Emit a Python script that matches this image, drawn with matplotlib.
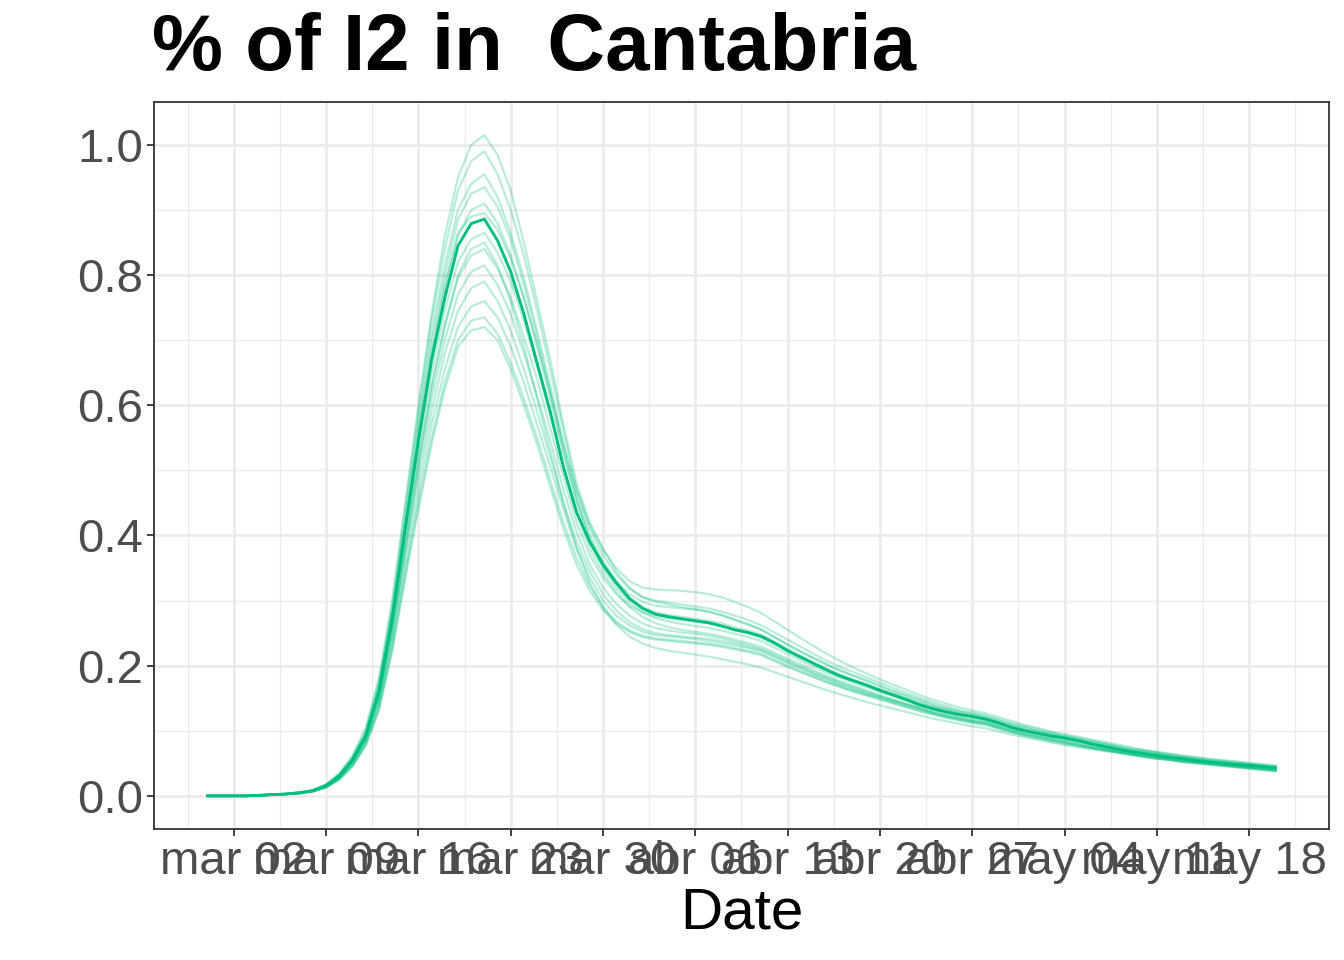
import matplotlib
matplotlib.use("Agg")
import matplotlib.pyplot as plt
import matplotlib.dates as mdates
import numpy as np
import pandas as pd

plt.rcParams['font.family'] = ['Liberation Sans', 'DejaVu Sans']

TITLE = "% of I2 in  Cantabria"
XLABEL = "Date"
START_DATE = "2020-02-29"
N_DAYS = 82

tick_dates = ["2020-03-02", "2020-03-09", "2020-03-16", "2020-03-23", "2020-03-30",
              "2020-04-06", "2020-04-13", "2020-04-20", "2020-04-27", "2020-05-04",
              "2020-05-11", "2020-05-18"]
tick_labels = ["mar 02", "mar 09", "mar 16", "mar 23", "mar 30", "abr 06", "abr 13",
               "abr 20", "abr 27", "may 04", "may 11", "may 18"]
y_ticks = [0.0, 0.2, 0.4, 0.6, 0.8, 1.0]
y_tick_labels = ["0.0", "0.2", "0.4", "0.6", "0.8", "1.0"]

# main (median) trajectory
main_series = [0, 0, 0, 0, 0.001, 0.002, 0.003, 0.005, 0.008, 0.016,
               0.031, 0.055, 0.092, 0.16, 0.27, 0.41, 0.545, 0.67, 0.765, 0.845,
               0.879, 0.886, 0.853, 0.805, 0.74, 0.665, 0.59, 0.505, 0.435, 0.39,
               0.355, 0.327, 0.303, 0.288, 0.279, 0.275, 0.272, 0.269, 0.266, 0.261,
               0.255, 0.251, 0.245, 0.235, 0.223, 0.213, 0.203, 0.193, 0.184, 0.177,
               0.170, 0.162, 0.155, 0.148, 0.140, 0.134, 0.129, 0.125, 0.122, 0.118,
               0.112, 0.105, 0.100, 0.096, 0.092, 0.089, 0.085, 0.080, 0.076, 0.072,
               0.068, 0.065, 0.062, 0.059, 0.057, 0.054, 0.052, 0.050, 0.048, 0.047,
               0.045, 0.043]

# ensemble trajectories
ens_a = [0, 0, 0, 0, 0.001, 0.002, 0.003, 0.005, 0.009, 0.018,
         0.035, 0.062, 0.105, 0.18, 0.30, 0.45, 0.60, 0.74, 0.86, 0.95,
         1.0, 1.015, 0.985, 0.93, 0.85, 0.76, 0.67, 0.57, 0.48, 0.42,
         0.38, 0.345, 0.32, 0.305, 0.298, 0.294, 0.29, 0.287, 0.283, 0.277,
         0.27, 0.263, 0.255, 0.244, 0.233, 0.222, 0.212, 0.202, 0.193, 0.185,
         0.178, 0.170, 0.162, 0.155, 0.148, 0.141, 0.135, 0.130, 0.126, 0.122,
         0.116, 0.110, 0.105, 0.100, 0.096, 0.092, 0.088, 0.084, 0.080, 0.076,
         0.072, 0.069, 0.066, 0.063, 0.060, 0.058, 0.055, 0.053, 0.051, 0.049,
         0.047, 0.045]
ens_b = [0, 0, 0, 0, 0.001, 0.002, 0.003, 0.005, 0.009, 0.017,
         0.033, 0.060, 0.10, 0.175, 0.29, 0.44, 0.59, 0.73, 0.84, 0.93,
         0.975, 0.99, 0.955, 0.90, 0.83, 0.745, 0.655, 0.56, 0.47, 0.41,
         0.37, 0.34, 0.318, 0.305, 0.30, 0.297, 0.294, 0.291, 0.288, 0.283,
         0.277, 0.27, 0.262, 0.251, 0.240, 0.229, 0.218, 0.207, 0.198, 0.19,
         0.182, 0.174, 0.166, 0.158, 0.151, 0.144, 0.138, 0.132, 0.128, 0.124,
         0.118, 0.112, 0.107, 0.102, 0.097, 0.093, 0.089, 0.085, 0.081, 0.077,
         0.073, 0.07, 0.067, 0.064, 0.061, 0.058, 0.056, 0.054, 0.052, 0.05,
         0.048, 0.046]
ens_c = [0, 0, 0, 0, 0.001, 0.002, 0.003, 0.005, 0.008, 0.016,
         0.032, 0.058, 0.097, 0.17, 0.285, 0.43, 0.575, 0.71, 0.815, 0.9,
         0.94, 0.955, 0.92, 0.865, 0.795, 0.715, 0.63, 0.54, 0.46, 0.40,
         0.36, 0.33, 0.305, 0.29, 0.282, 0.278, 0.275, 0.272, 0.269, 0.265,
         0.259, 0.254, 0.248, 0.237, 0.226, 0.215, 0.205, 0.195, 0.186, 0.178,
         0.171, 0.164, 0.157, 0.150, 0.143, 0.137, 0.132, 0.127, 0.123, 0.119,
         0.113, 0.107, 0.102, 0.097, 0.093, 0.089, 0.085, 0.081, 0.077, 0.073,
         0.07, 0.067, 0.064, 0.061, 0.058, 0.056, 0.053, 0.051, 0.049, 0.047,
         0.045, 0.044]
ens_d = [0, 0, 0, 0, 0.001, 0.002, 0.003, 0.005, 0.008, 0.016,
         0.031, 0.056, 0.094, 0.165, 0.278, 0.42, 0.565, 0.695, 0.80, 0.885,
         0.925, 0.935, 0.905, 0.855, 0.785, 0.705, 0.62, 0.53, 0.455, 0.395,
         0.357, 0.33, 0.31, 0.298, 0.292, 0.29, 0.288, 0.286, 0.283, 0.278,
         0.271, 0.264, 0.256, 0.244, 0.232, 0.221, 0.211, 0.201, 0.192, 0.184,
         0.176, 0.168, 0.160, 0.153, 0.146, 0.139, 0.134, 0.129, 0.125, 0.121,
         0.115, 0.109, 0.104, 0.099, 0.095, 0.091, 0.087, 0.083, 0.079, 0.075,
         0.071, 0.068, 0.065, 0.062, 0.059, 0.057, 0.054, 0.052, 0.05, 0.048,
         0.046, 0.044]
ens_e = [0, 0, 0, 0, 0.001, 0.002, 0.003, 0.005, 0.008, 0.016,
         0.030, 0.055, 0.092, 0.162, 0.272, 0.41, 0.55, 0.675, 0.78, 0.86,
         0.9, 0.91, 0.88, 0.83, 0.765, 0.69, 0.61, 0.525, 0.45, 0.39,
         0.35, 0.32, 0.297, 0.282, 0.273, 0.268, 0.264, 0.261, 0.258, 0.254,
         0.249, 0.244, 0.238, 0.228, 0.218, 0.208, 0.198, 0.189, 0.181, 0.174,
         0.167, 0.160, 0.153, 0.146, 0.139, 0.133, 0.128, 0.124, 0.120, 0.116,
         0.110, 0.104, 0.099, 0.095, 0.091, 0.087, 0.083, 0.079, 0.075, 0.071,
         0.068, 0.065, 0.062, 0.059, 0.056, 0.054, 0.051, 0.049, 0.047, 0.045,
         0.044, 0.042]
ens_n = [0, 0, 0, 0, 0.001, 0.002, 0.003, 0.005, 0.008, 0.016,
         0.030, 0.055, 0.093, 0.163, 0.275, 0.415, 0.555, 0.68, 0.785, 0.865,
         0.89, 0.895, 0.87, 0.825, 0.765, 0.695, 0.62, 0.54, 0.47, 0.415,
         0.378, 0.35, 0.33, 0.32, 0.317, 0.316, 0.315, 0.313, 0.31, 0.305,
         0.298, 0.29, 0.281, 0.268, 0.255, 0.242, 0.23, 0.218, 0.207, 0.197,
         0.188, 0.179, 0.171, 0.163, 0.155, 0.148, 0.142, 0.136, 0.131, 0.127,
         0.121, 0.115, 0.109, 0.104, 0.099, 0.095, 0.091, 0.087, 0.083, 0.079,
         0.075, 0.071, 0.068, 0.065, 0.062, 0.060, 0.057, 0.055, 0.053, 0.051,
         0.049, 0.047]
ens_f = [0, 0, 0, 0, 0.001, 0.002, 0.003, 0.005, 0.008, 0.015,
         0.029, 0.053, 0.089, 0.155, 0.262, 0.395, 0.53, 0.65, 0.745, 0.82,
         0.855, 0.865, 0.835, 0.79, 0.73, 0.66, 0.585, 0.505, 0.435, 0.38,
         0.342, 0.313, 0.29, 0.275, 0.265, 0.259, 0.255, 0.252, 0.249, 0.245,
         0.24, 0.235, 0.229, 0.22, 0.211, 0.202, 0.193, 0.184, 0.176, 0.169,
         0.162, 0.155, 0.148, 0.142, 0.136, 0.130, 0.125, 0.121, 0.117, 0.114,
         0.108, 0.102, 0.097, 0.093, 0.089, 0.085, 0.081, 0.077, 0.073, 0.070,
         0.066, 0.063, 0.060, 0.058, 0.055, 0.053, 0.051, 0.049, 0.047, 0.045,
         0.043, 0.041]
ens_o = [0, 0, 0, 0, 0.001, 0.002, 0.003, 0.004, 0.007, 0.014,
         0.028, 0.051, 0.086, 0.148, 0.25, 0.38, 0.51, 0.625, 0.72, 0.8,
         0.84, 0.85, 0.815, 0.76, 0.69, 0.61, 0.53, 0.45, 0.38, 0.327,
         0.29, 0.263, 0.245, 0.234, 0.227, 0.223, 0.22, 0.217, 0.214, 0.21,
         0.206, 0.202, 0.197, 0.19, 0.183, 0.176, 0.169, 0.162, 0.156, 0.15,
         0.144, 0.139, 0.134, 0.129, 0.124, 0.119, 0.115, 0.111, 0.107, 0.104,
         0.099, 0.094, 0.090, 0.086, 0.082, 0.078, 0.075, 0.072, 0.069, 0.066,
         0.063, 0.060, 0.057, 0.055, 0.052, 0.050, 0.048, 0.046, 0.044, 0.042,
         0.040, 0.038]
ens_g = [0, 0, 0, 0, 0.001, 0.002, 0.003, 0.005, 0.008, 0.015,
         0.029, 0.052, 0.087, 0.15, 0.255, 0.385, 0.515, 0.63, 0.725, 0.795,
         0.83, 0.84, 0.81, 0.765, 0.705, 0.64, 0.565, 0.49, 0.42, 0.37,
         0.335, 0.31, 0.292, 0.282, 0.276, 0.273, 0.27, 0.268, 0.265, 0.261,
         0.256, 0.25, 0.243, 0.233, 0.223, 0.213, 0.203, 0.194, 0.185, 0.177,
         0.170, 0.163, 0.156, 0.149, 0.142, 0.136, 0.131, 0.126, 0.122, 0.118,
         0.112, 0.106, 0.101, 0.097, 0.093, 0.089, 0.085, 0.081, 0.077, 0.073,
         0.069, 0.066, 0.063, 0.060, 0.057, 0.055, 0.053, 0.051, 0.049, 0.047,
         0.045, 0.043]
ens_h = [0, 0, 0, 0, 0.001, 0.002, 0.003, 0.005, 0.007, 0.014,
         0.028, 0.050, 0.085, 0.146, 0.248, 0.375, 0.5, 0.61, 0.70, 0.77,
         0.805, 0.815, 0.785, 0.74, 0.68, 0.615, 0.545, 0.47, 0.405, 0.355,
         0.32, 0.295, 0.277, 0.265, 0.258, 0.254, 0.251, 0.249, 0.246, 0.242,
         0.237, 0.232, 0.226, 0.217, 0.208, 0.199, 0.19, 0.182, 0.174, 0.167,
         0.160, 0.153, 0.147, 0.141, 0.135, 0.129, 0.124, 0.120, 0.116, 0.113,
         0.107, 0.101, 0.096, 0.092, 0.088, 0.084, 0.080, 0.076, 0.072, 0.069,
         0.065, 0.062, 0.060, 0.057, 0.055, 0.052, 0.050, 0.048, 0.046, 0.044,
         0.042, 0.041]
ens_i = [0, 0, 0, 0, 0.001, 0.002, 0.003, 0.004, 0.007, 0.014,
         0.027, 0.049, 0.083, 0.142, 0.24, 0.365, 0.485, 0.59, 0.68, 0.745,
         0.78, 0.79, 0.76, 0.715, 0.655, 0.59, 0.52, 0.45, 0.39, 0.345,
         0.31, 0.285, 0.267, 0.256, 0.25, 0.247, 0.245, 0.243, 0.241, 0.238,
         0.234, 0.229, 0.224, 0.215, 0.206, 0.197, 0.188, 0.180, 0.172, 0.165,
         0.158, 0.152, 0.146, 0.140, 0.134, 0.128, 0.123, 0.119, 0.115, 0.112,
         0.106, 0.100, 0.095, 0.091, 0.087, 0.083, 0.079, 0.075, 0.072, 0.068,
         0.065, 0.062, 0.059, 0.057, 0.054, 0.052, 0.050, 0.048, 0.046, 0.044,
         0.042, 0.040]
ens_j = [0, 0, 0, 0, 0.001, 0.002, 0.003, 0.004, 0.007, 0.013,
         0.026, 0.047, 0.08, 0.137, 0.232, 0.35, 0.465, 0.57, 0.655, 0.72,
         0.752, 0.76, 0.735, 0.69, 0.635, 0.57, 0.505, 0.44, 0.38, 0.335,
         0.3, 0.277, 0.262, 0.252, 0.247, 0.245, 0.243, 0.241, 0.238, 0.235,
         0.231, 0.227, 0.222, 0.213, 0.204, 0.195, 0.186, 0.178, 0.170, 0.163,
         0.157, 0.151, 0.145, 0.139, 0.133, 0.127, 0.122, 0.118, 0.114, 0.111,
         0.105, 0.099, 0.094, 0.090, 0.086, 0.082, 0.078, 0.074, 0.071, 0.068,
         0.064, 0.061, 0.058, 0.056, 0.053, 0.051, 0.049, 0.047, 0.045, 0.043,
         0.041, 0.039]
ens_k = [0, 0, 0, 0, 0.001, 0.002, 0.003, 0.004, 0.007, 0.013,
         0.025, 0.046, 0.078, 0.133, 0.225, 0.34, 0.45, 0.55, 0.635, 0.7,
         0.73, 0.735, 0.71, 0.665, 0.61, 0.55, 0.485, 0.42, 0.365, 0.322,
         0.29, 0.268, 0.254, 0.246, 0.242, 0.24, 0.238, 0.236, 0.234, 0.231,
         0.227, 0.223, 0.218, 0.209, 0.2, 0.191, 0.183, 0.175, 0.168, 0.161,
         0.155, 0.149, 0.143, 0.137, 0.131, 0.126, 0.121, 0.117, 0.113, 0.110,
         0.104, 0.098, 0.093, 0.089, 0.085, 0.081, 0.077, 0.074, 0.070, 0.067,
         0.064, 0.061, 0.058, 0.055, 0.053, 0.051, 0.049, 0.047, 0.045, 0.043,
         0.041, 0.039]
ens_l = [0, 0, 0, 0, 0.001, 0.002, 0.003, 0.004, 0.007, 0.013,
         0.025, 0.045, 0.077, 0.13, 0.22, 0.333, 0.44, 0.54, 0.625, 0.69,
         0.715, 0.72, 0.7, 0.655, 0.6, 0.54, 0.475, 0.41, 0.355, 0.315,
         0.285, 0.265, 0.252, 0.244, 0.24, 0.238, 0.236, 0.234, 0.232, 0.229,
         0.225, 0.221, 0.216, 0.207, 0.198, 0.190, 0.182, 0.174, 0.167, 0.160,
         0.154, 0.148, 0.142, 0.136, 0.130, 0.125, 0.120, 0.116, 0.112, 0.109,
         0.103, 0.097, 0.092, 0.088, 0.084, 0.080, 0.077, 0.073, 0.070, 0.067,
         0.063, 0.060, 0.057, 0.055, 0.052, 0.050, 0.048, 0.046, 0.044, 0.042,
         0.040, 0.038]

ensemble = [ens_a, ens_b, ens_c, ens_d, ens_e, ens_n, ens_f, ens_o,
            ens_g, ens_h, ens_i, ens_j, ens_k, ens_l]

LINE_COLOR = "#00BF7D"

dates = pd.date_range(START_DATE, periods=N_DAYS, freq="D")

fig = plt.figure(figsize=(13.44, 9.6), dpi=100)
ax = fig.add_axes([0.1146, 0.1365, 0.8742, 0.7572])

for s in ensemble:
    ax.plot(dates, s, color=LINE_COLOR, alpha=0.28, lw=1.6)
ax.plot(dates, main_series, color=LINE_COLOR, alpha=1.0, lw=2.1, zorder=5)

# limits with ggplot-style 5% expansion
x0 = mdates.date2num(dates[0]); x1 = mdates.date2num(dates[-1])
xr = x1 - x0
ax.set_xlim(x0 - 0.05 * xr, x1 + 0.05 * xr)
all_vals = [v for s in ensemble + [main_series] for v in s]
ymin, ymax = min(all_vals), max(all_vals)
yr = ymax - ymin
ax.set_ylim(ymin - 0.05 * yr, ymax + 0.05 * yr)

tick_nums = [mdates.date2num(pd.Timestamp(t)) for t in tick_dates]
ax.set_xticks(tick_nums)
ax.set_xticklabels(tick_labels)
minor_x = [t - 3.5 for t in tick_nums] + [tick_nums[-1] + 3.5]
ax.set_xticks(minor_x, minor=True)
ax.set_yticks(y_ticks)
ax.set_yticklabels(y_tick_labels)
ax.set_yticks([0.1, 0.3, 0.5, 0.7, 0.9], minor=True)

ax.grid(which="major", color="#EBEBEB", lw=1.9)
ax.grid(which="minor", color="#EBEBEB", lw=1.0)
ax.set_axisbelow(True)
for sp in ax.spines.values():
    sp.set_color("#333333")
    sp.set_linewidth(1.3)

ax.tick_params(axis="both", which="major", length=5, width=1.3, color="#333333",
               labelsize=34, labelcolor="#4D4D4D", pad=3)
ax.tick_params(axis="both", which="minor", length=0)

ax.set_xlabel(XLABEL, fontsize=42, color="black", labelpad=2)
fig.text(0.113, 0.927, TITLE, fontsize=57.5, fontweight="bold", ha="left", va="baseline")

fig.savefig("out.png", dpi=100)
